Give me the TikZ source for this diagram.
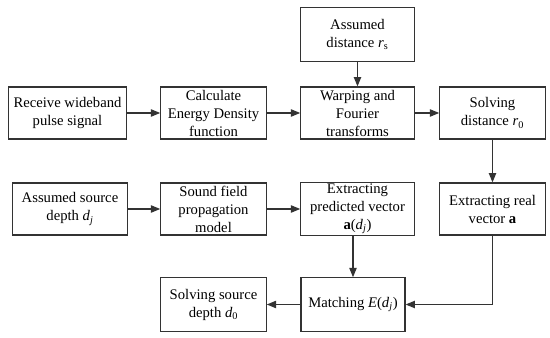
\documentclass[tikz,border=0pt]{standalone}
\usepackage{fontspec}
\setmainfont{Liberation Serif}
\usetikzlibrary{arrows.meta}
\begin{document}
\begin{tikzpicture}[x=0.75pt,y=-0.75pt,
  box/.style={draw=black!80,line width=0.9pt,rectangle,align=center,inner sep=1pt,
    font=\fontsize{11}{13.5}\selectfont,minimum height=39pt},
  conn/.style={draw=black!80,line width=0.9pt,-{Triangle[length=7pt,width=5.5pt]}}]
\useasboundingbox (0,0) rectangle (550,338);
\node[box,minimum width=89pt] (recv) at (67.5,113) {Receive wideband\\pulse signal};
\node[box,minimum width=79pt] (calc) at (213.5,113) {Calculate\\Energy Density\\function};
\node[box,minimum width=85pt,minimum height=40pt] (asd) at (357.5,34.5) {Assumed\\distance \textit{r}\textsubscript{s}};
\node[box,minimum width=85pt] (warp) at (357.5,113) {Warping and\\Fourier\\transforms};
\node[box,minimum width=79pt] (solvd) at (492.5,113) {Solving\\distance \textit{r}\textsubscript{0}};
\node[box,minimum width=86pt] (assrc) at (70,209) {Assumed source\\depth \textit{d\textsubscript{j}}};
\node[box,minimum width=79pt] (sound) at (213.5,209) {Sound field\\propagation\\model};
\node[box,minimum width=85pt] (pred) at (357.5,209) {Extracting\\predicted vector\\\textbf{a}(\textit{d\textsubscript{j}})};
\node[box,minimum width=79pt] (real) at (492.5,209) {Extracting real\\vector \textbf{a}};
\node[box,minimum width=79pt,minimum height=40pt] (solvs) at (213.5,304.5) {Solving source\\depth \textit{d}\textsubscript{0}};
\node[box,minimum width=78pt,minimum height=40pt] (match) at (353,304.5) {Matching \textit{E}(\textit{d\textsubscript{j}})};
\draw[conn] (recv) -- (calc);
\draw[conn] (calc) -- (warp);
\draw[conn] (asd) -- (warp);
\draw[conn] (warp) -- (solvd);
\draw[conn] (solvd) -- (real);
\draw[conn] (assrc) -- (sound);
\draw[conn] (sound) -- (pred);
\draw[conn] (pred.south -| match.north) -- (match.north);
\draw[conn] (real.south) |- (match.east);
\draw[conn] (match) -- (solvs);
\end{tikzpicture}
\end{document}
